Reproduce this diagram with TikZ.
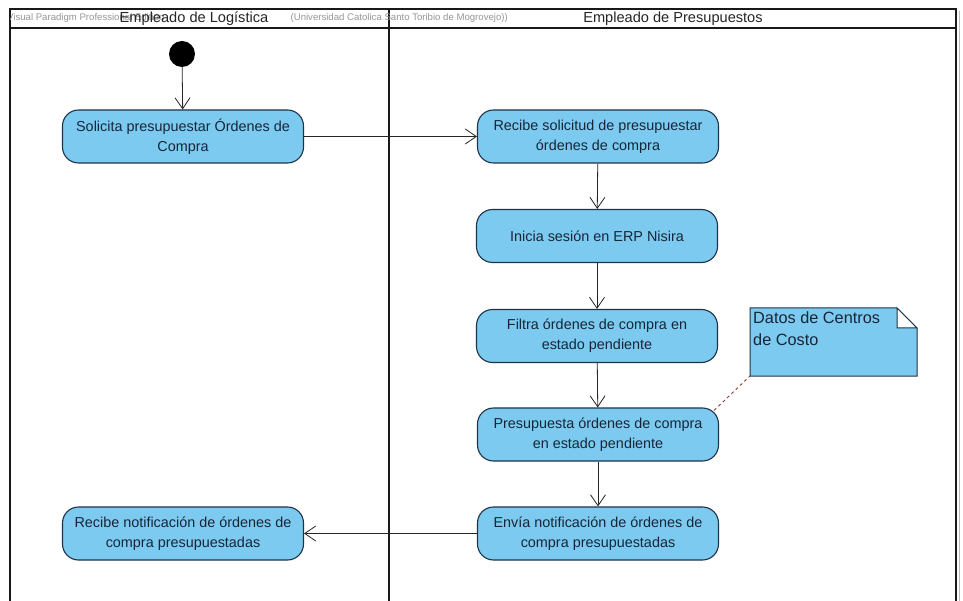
\documentclass[tikz,border=0pt]{standalone}
\usepackage{fontspec}
\setmainfont{Liberation Sans}
\usetikzlibrary{arrows.meta,shapes.misc}

\definecolor{actfill}{RGB}{124,202,240}
\definecolor{actborder}{RGB}{30,52,72}
\definecolor{acttext}{RGB}{22,38,56}
\definecolor{wmark}{RGB}{150,150,150}
\definecolor{anchorline}{RGB}{140,60,50}

\tikzset{
  action/.style={draw=actborder, fill=actfill, line width=1.1pt,
    rounded corners=16pt, minimum width=241pt, minimum height=53pt,
    align=center, text=acttext,
    font=\fontsize{14.4}{20}\selectfont, inner sep=1pt},
  flow/.style={draw=black!85, line width=0.8pt,
    -{Straight Barb[length=11pt,width=15pt,line width=0.8pt]}},
  lane/.style={draw=black!90, line width=1.9pt},
  lanetitle/.style={font=\fontsize{14.6}{16}\selectfont, text=black!85},
  watermark/.style={font=\fontsize{9.6}{10}\selectfont, text=wmark, inner sep=0pt},
}

\begin{document}
\begin{tikzpicture}[x=1pt, y=-1pt]
  \useasboundingbox (0,0) rectangle (963,601);
  \fill[white] (0,0) rectangle (963,601);
  \clip (0,0) rectangle (963,601);

  % swimlane frame
  \draw[lane] (10,620) -- (10,9) -- (956,9) -- (956,620);
  \draw[lane] (10,28) -- (956,28);
  \draw[lane] (389,9) -- (389,620);
  \draw[black!25, line width=1pt] (959,11) -- (959,620);

  % tool watermark in the header
  \begin{scope}
    \clip (10,10) rectangle (956,27);
    \node[watermark, anchor=west] (wmA) at (7,18.5) {Visual Paradigm Professional Edition};
    \node[watermark, anchor=east] (wmB) at (508,18.5) {(Universidad Catolica Santo Toribio de Mogrovejo))};
  \end{scope}

  % lane titles
  \node[lanetitle] (laneA) at (194,18.5) {Empleado de Logística};
  \node[lanetitle] (laneB) at (673,18.5) {Empleado de Presupuestos};

  % initial node
  \node[circle, fill=black, minimum size=26pt, inner sep=0pt] (start) at (182,54) {};

  % actions
  \node[action] (solicita) at (183,136.5) {Solicita presupuestar Órdenes de\\Compra};
  \node[action] (recibe) at (598,136.5) {Recibe solicitud de presupuestar\\órdenes de compra};
  \node[action] (inicia) at (597,236) {Inicia sesión en ERP Nisira};
  \node[action] (filtra) at (597,336) {Filtra órdenes de compra en\\estado pendiente};
  \node[action] (presupuesta) at (598,434.5) {Presupuesta órdenes de compra\\en estado pendiente};
  \node[action] (envia) at (598,533.5) {Envía notificación de órdenes de\\compra presupuestadas};
  \node[action] (notif) at (183,533.5) {Recibe notificación de órdenes de\\compra presupuestadas};

  % note
  \coordinate (nSW) at (750,376);
  \filldraw[fill=actfill, draw=actborder, line width=1pt]
    (750,308) -- (897,308) -- (917,328) -- (917,376) -- (750,376) -- cycle;
  \filldraw[fill=white, draw=actborder, line width=1pt]
    (897,308) -- (897,328) -- (917,328) -- cycle;
  \node[anchor=north west, align=left, inner sep=0pt, text=acttext,
        font=\fontsize{16.3}{22}\selectfont] (nota) at (753,311)
    {Datos de Centros\\de Costo};

  % control flow
  \draw[flow] (start) -- (solicita);
  \draw[flow] (solicita) -- (recibe);
  \draw[flow] (recibe) -- (inicia);
  \draw[flow] (inicia) -- (filtra);
  \draw[flow] (filtra) -- (presupuesta);
  \draw[flow] (presupuesta) -- (envia);
  \draw[flow] (envia) -- (notif);

  % note anchor
  \draw[anchorline, dashed, line width=0.9pt] (presupuesta.north east) ++(-5,3) -- (nSW);
\end{tikzpicture}
\end{document}
